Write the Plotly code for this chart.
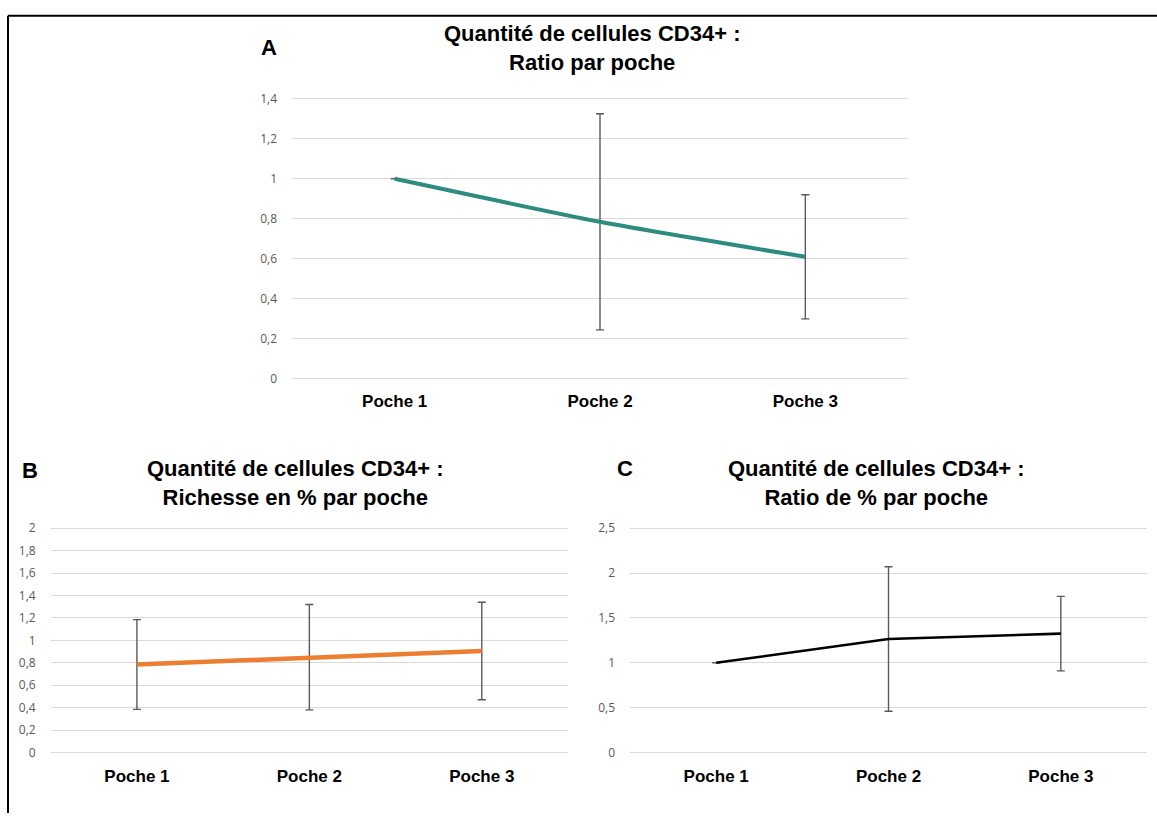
import plotly.graph_objects as go

W, H = 1157, 818

# ---- data -------------------------------------------------------------
categories = ["Poche 1", "Poche 2", "Poche 3"]

ratio_values = [1.0, 0.785, 0.61]          # A : ratio par poche
ratio_errors = [None, 0.54, 0.31]

richesse_values = [0.785, 0.85, 0.905]     # B : richesse en % par poche
richesse_errors = [0.40, 0.47, 0.435]

ratio_pct_values = [1.0, 1.265, 1.325]     # C : ratio de % par poche
ratio_pct_errors = [None, 0.805, 0.415]

ticks_a = [0, 0.2, 0.4, 0.6, 0.8, 1, 1.2, 1.4]
ticks_b = [0, 0.2, 0.4, 0.6, 0.8, 1, 1.2, 1.4, 1.6, 1.8, 2]
ticks_c = [0, 0.5, 1, 1.5, 2, 2.5]

titles = {
    "A": "Quantité de cellules CD34+ :<br>Ratio par poche",
    "B": "Quantité de cellules CD34+ :<br>Richesse en % par poche",
    "C": "Quantité de cellules CD34+ :<br>Ratio de % par poche",
}


# ---- helpers: pixel geometry -> paper domains --------------------------
def xdom(x0, x1):
    return [x0 / W, x1 / W]


def ydom(py_zero, py_top, top_val, pad):
    per = (py_zero - py_top) / top_val
    bottom_px = py_zero + pad * per
    top_px = py_top - pad * per
    return [1 - bottom_px / H, 1 - top_px / H], [-pad, top_val + pad]


fig = go.Figure()

GRID = "#d9d9d9"
TICK_FONT = dict(family="Open Sans, Liberation Sans, sans-serif", size=12, color="#595959")
CAT_FONT = dict(family="Liberation Sans, Arial, sans-serif", size=17, color="#000000", weight="bold")
ERR = dict(type="data", symmetric=True, color="#595959", thickness=1.4, width=4)

panels = [
    # name, xaxis, yaxis, values, errors, colour, width, shape, x-px, y-px(zero, top), top, ticks, label gap
    ("A", "x", "y", ratio_values, ratio_errors, "#2e8b80", 4, "spline", (292, 908), (378, 94), 1.4, ticks_a, 7),
    ("B", "x2", "y2", richesse_values, richesse_errors, "#ed7d31", 4.5, "linear", (50.7, 568), (756.7, 529.3), 2.0, ticks_b, 9),
    ("C", "x3", "y3", ratio_pct_values, ratio_pct_errors, "#000000", 2.6, "linear", (630, 1147), (756.7, 529.3), 2.5, ticks_c, 9),
]

for name, xa, ya, vals, errs, col, lw, shape, xpx, ypx, top, ticks, gap in panels:
    fig.add_trace(go.Scatter(
        x=categories, y=vals, xaxis=xa, yaxis=ya, mode="lines",
        line=dict(color=col, width=lw, shape=shape, smoothing=0.6),
        error_y=dict(ERR, array=errs),
        showlegend=False, hoverinfo="skip",
    ))
    ydomain, yrange = ydom(ypx[0], ypx[1], top, 0.012 * top)
    xkey = "xaxis" if xa == "x" else "xaxis" + xa[1:]
    ykey = "yaxis" if ya == "y" else "yaxis" + ya[1:]
    fig.layout[xkey] = dict(
        domain=xdom(*xpx), anchor=ya, type="category", range=[-0.5, 2.5],
        showgrid=False, showline=False, zeroline=False, ticks="",
        tickfont=CAT_FONT, ticklabelstandoff=gap,
    )
    fig.layout[ykey] = dict(
        domain=ydomain, anchor=xa, range=yrange, tickvals=ticks,
        showgrid=True, gridcolor=GRID, gridwidth=1.2, showline=False,
        zeroline=False, ticks="", tickfont=TICK_FONT, ticklabelstandoff=14,
    )

# panel titles and letters
title_pos = {"A": (592, 43), "B": (295, 484), "C": (876, 484)}
letter_pos = {"A": (269, 42), "B": (30, 471), "C": (625, 469)}
for key, text in titles.items():
    tx, ty = title_pos[key]
    fig.add_annotation(
        text=text, x=tx / W, y=1 - ty / H, xref="paper", yref="paper",
        showarrow=False, xanchor="center", yanchor="middle",
        font=dict(family="Liberation Sans, Arial, sans-serif", size=22, color="#000000", weight="bold"),
    )
    lx, ly = letter_pos[key]
    fig.add_annotation(
        text=key, x=lx / W, y=1 - ly / H, xref="paper", yref="paper",
        showarrow=False, xanchor="center", yanchor="middle",
        font=dict(family="Liberation Sans, Arial, sans-serif", size=22, color="#000000", weight="bold"),
    )

# frame lines along the top and the left edge
fig.add_shape(type="line", xref="paper", yref="paper",
              x0=8 / W, x1=1, y0=1 - 10 / H, y1=1 - 10 / H,
              line=dict(color="#000000", width=2))
fig.add_shape(type="line", xref="paper", yref="paper",
              x0=8 / W, x1=8 / W, y0=0, y1=1 - 10 / H,
              line=dict(color="#000000", width=2))

fig.update_layout(
    width=W, height=H, margin=dict(l=0, r=0, t=0, b=0),
    paper_bgcolor="#ffffff", plot_bgcolor="#ffffff",
    separators=", ",
)

fig.write_html("out.html")
